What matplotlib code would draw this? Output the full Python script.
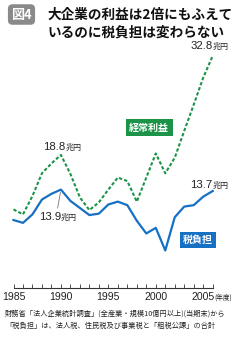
"""Corporate profits vs. tax burden (large companies), 1985-2006."""

import matplotlib
matplotlib.use("Agg")
import matplotlib.pyplot as plt

JP = ["Noto Sans CJK JP", "DejaVu Sans"]
NUM = ["Liberation Sans", "Noto Sans CJK JP"]
NARROW = ["Liberation Sans Narrow", "Liberation Sans", "Noto Sans CJK JP"]

GREEN = "#1b9448"
BLUE = "#1670c4"

# data (trillion yen), fiscal years
years = list(range(1985, 2007))
profit = [11.1, 10.4, 13.0, 16.2, 17.6, 18.8, 16.1, 12.8, 11.0, 12.1, 13.9,
          15.6, 15.1, 12.2, 15.6, 19.0, 16.2, 18.4, 22.2, 25.9, 29.7, 32.8]
tax = [9.6, 9.2, 10.4, 12.5, 13.3, 13.9, 12.3, 11.3, 10.3, 10.5, 11.8,
       12.2, 11.7, 9.5, 7.7, 8.5, 5.3, 10.0, 11.5, 11.7, 12.9, 13.7]
tick_years = [1985, 1990, 1995, 2000, 2005]

W, H = 243, 340
fig = plt.figure(figsize=(W / 100, H / 100), dpi=100)
fig.patch.set_facecolor("white")

# axes placed so 1985..2006 spans the drawing width and 0..35 the height
ax = fig.add_axes([13.5 / W, 1 - 288 / H, (212.7 - 13.5) / W, 35 * 7.08 / H])
ax.set_xlim(1985, 2006)
ax.set_ylim(0, 35)
ax.patch.set_alpha(0)

ax.plot(years, profit, color=GREEN, lw=1.5, linestyle=(0, (1.6, 1.0)),
        solid_capstyle="butt", clip_on=False)
ax.plot(years, tax, color=BLUE, lw=1.6, clip_on=False)

for s in ["top", "left", "right"]:
    ax.spines[s].set_visible(False)
ax.spines["bottom"].set_color("#333333")
ax.spines["bottom"].set_linewidth(0.8)
ax.set_yticks([])
ax.set_xticks(years)
ax.set_xticklabels([str(y) if y in tick_years else "" for y in years],
                   family=NARROW, fontsize=7.6, color="#222222")
ax.tick_params(axis="x", direction="in", length=3, width=0.6,
               color="#333333", pad=3)
ax.text(2006.15, -1.35, "(年度)", family=JP, fontsize=4.8, color="#222222",
        va="center", ha="left", clip_on=False)


def value_label(x, y, num, dx, dy):
    ax.annotate(num, xy=(x, y), xytext=(dx, dy), textcoords="offset points",
                family=NUM, fontsize=8.2, color="#222222", ha="right",
                va="center")
    ax.annotate("兆円", xy=(x, y), xytext=(dx, dy - 0.3),
                textcoords="offset points", family=JP, fontsize=5.8,
                color="#222222", ha="left", va="center")


value_label(2006, profit[-1], "32.8", 0, 7)
value_label(1990, profit[5], "18.8", 3.5, 5.5)
value_label(2006, tax[-1], "13.7", 0, 4.5)
ax.annotate("", xy=(1990, tax[5]), xytext=(1989.6, 10.9),
            arrowprops=dict(arrowstyle="-", color="#777777", lw=0.6))
value_label(1990, tax[5], "13.9", 0, -20)

# series name boxes
ax.text(1999.3, 22.6, "経常利益", family=JP, fontsize=7.2, color="white",
        fontweight="bold", ha="center", va="center",
        bbox=dict(boxstyle="square,pad=0.35", fc=GREEN, ec="none"))
ax.text(2004.45, 6.8, "税負担", family=JP, fontsize=7.2, color="white",
        fontweight="bold", ha="center", va="center",
        bbox=dict(boxstyle="square,pad=0.3", fc=BLUE, ec="none"))

# header
fig.text(21.5 / W, 1 - 14.5 / H, "図4", family=JP, fontsize=9.4, color="white",
         fontweight="bold", va="center", ha="center",
         bbox=dict(boxstyle="round,pad=0.25,rounding_size=0.35",
                   fc="#8a8a8a", ec="none"))
fig.text(48 / W, 1 - 15 / H, "大企業の利益は2倍にもふえて", family=JP,
         fontsize=9.8, fontweight="bold", color="#111111", va="center")
fig.text(48 / W, 1 - 32 / H, "いるのに税負担は変わらない", family=JP,
         fontsize=9.8, fontweight="bold", color="#111111", va="center")

# source note
fig.text(5 / W, 1 - 314 / H,
         "財務省「法人企業統計調査」(全産業・規模10億円以上)(当期末)から",
         family=JP, fontsize=5.2, color="#222222", va="center")
fig.text(5 / W, 1 - 325.5 / H,
         "「税負担」は、法人税、住民税及び事業税と「租税公課」の合計",
         family=JP, fontsize=5.2, color="#222222", va="center")

fig.savefig("out.png", dpi=100, facecolor="white")
